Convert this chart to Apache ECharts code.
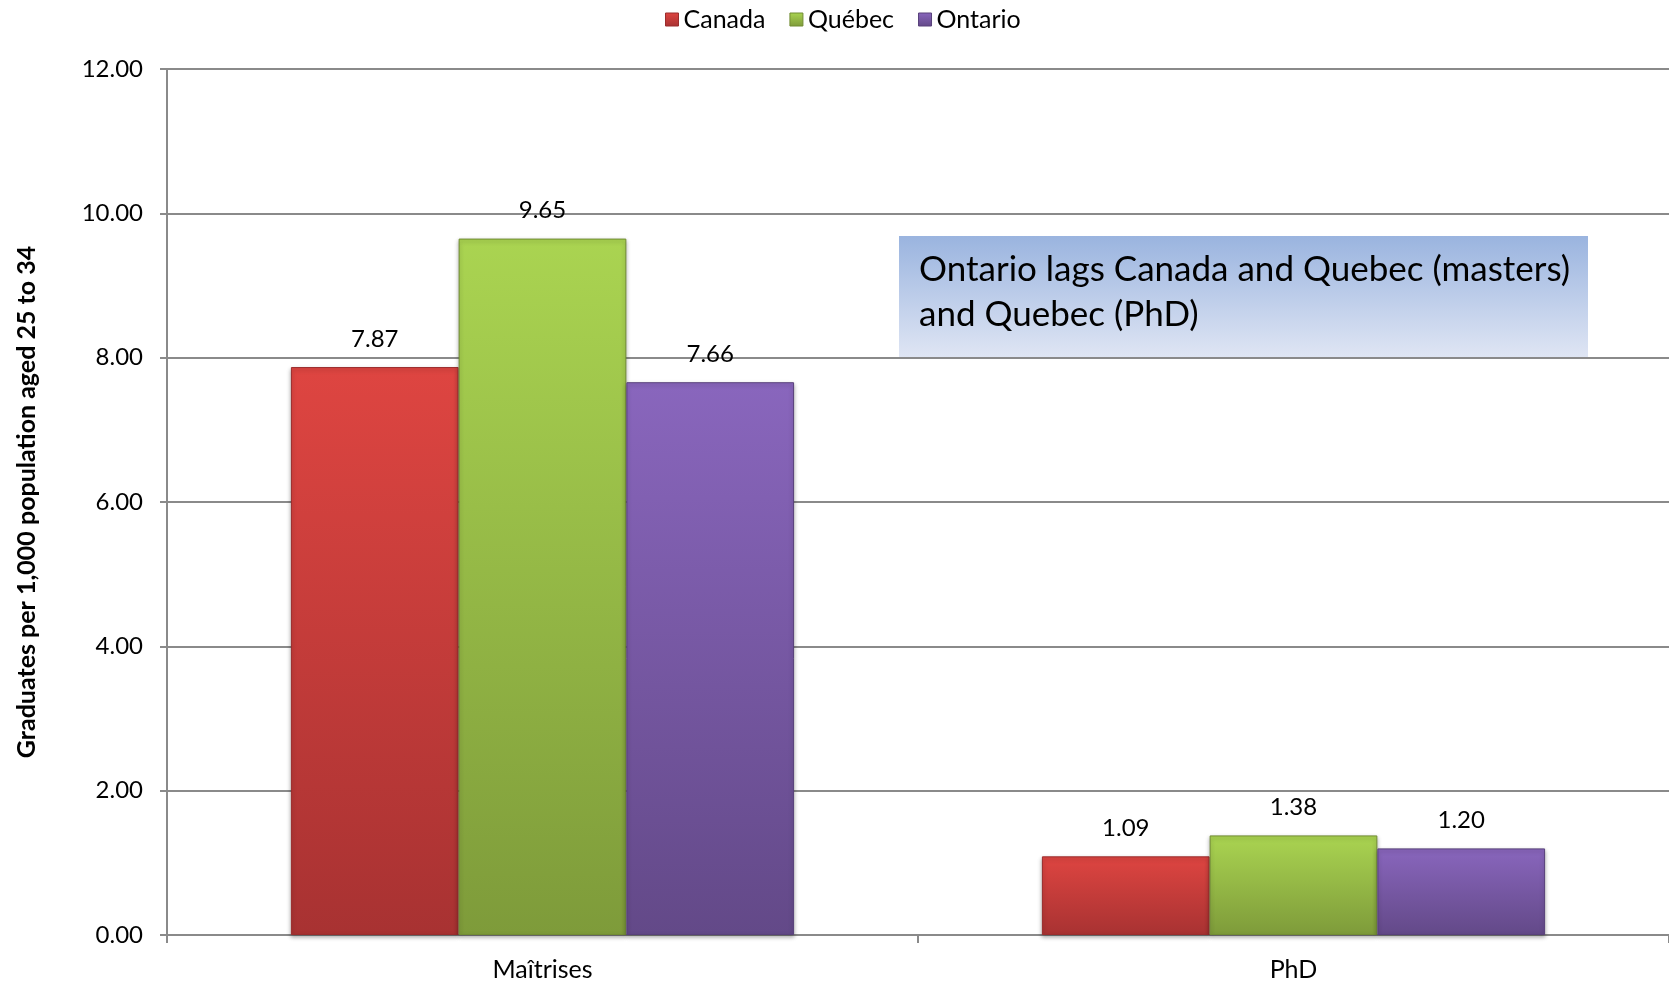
<!DOCTYPE html>
<html>
<head>
<meta charset="utf-8">
<script src="https://cdn.jsdelivr.net/npm/echarts@6/dist/echarts.min.js"></script>
<style>
  html, body { margin: 0; padding: 0; background: #ffffff; }
  #chart { width: 1669px; height: 982px; }
</style>
</head>
<body>
<div id="chart"></div>
<script>
// Graduates per 1,000 population aged 25 to 34
const categories = ['Maîtrises', 'PhD'];
const seriesNames = ['Canada', 'Québec', 'Ontario'];
const canada = [7.87, 1.09];
const quebec = [9.65, 1.38];
const ontario = [7.66, 1.20];
const yTicks = { min: 0, max: 12, interval: 2 };
const axisTitle = 'Graduates per 1,000 population aged 25 to 34';
const noteLines = ['Ontario lags Canada and Quebec (masters)', 'and Quebec (PhD)'];

const FONT = 'Lato, "Open Sans", sans-serif';
const GRAY = '#8a8a8a';

function grad(top, bottom) {
  return new echarts.graphic.LinearGradient(0, 0, 0, 1, [
    { offset: 0, color: top },
    { offset: 1, color: bottom }
  ]);
}

const palette = [
  { top: '#de4541', bottom: '#a83232', border: '#9a2d2d' },
  { top: '#aad451', bottom: '#7e9b3a', border: '#718c33' },
  { top: '#8966bd', bottom: '#634988', border: '#58417a' }
];
const values = [canada, quebec, ontario];

const chart = echarts.init(document.getElementById('chart'), null, { renderer: 'canvas' });

const series = seriesNames.map((name, i) => ({
  name: name,
  type: 'bar',
  data: values[i],
  barGap: '0%',
  barCategoryGap: '33%',
  itemStyle: {
    color: grad(palette[i].top, palette[i].bottom),
    borderColor: palette[i].border,
    borderWidth: 1,
    shadowColor: 'rgba(0,0,0,0.3)',
    shadowBlur: 4,
    shadowOffsetY: 2
  },
  label: {
    show: true,
    position: 'top',
    distance: 16,
    formatter: p => p.value.toFixed(2),
    fontFamily: FONT,
    fontSize: 24,
    color: '#000000'
  }
}));

chart.setOption({
  animation: false,
  backgroundColor: '#ffffff',
  legend: {
    data: seriesNames.map((n, i) => ({
      name: n,
      itemStyle: { color: grad(palette[i].top, palette[i].bottom), borderColor: palette[i].border, borderWidth: 1 }
    })),
    top: 2,
    left: 660,
    icon: 'rect',
    itemWidth: 13,
    itemHeight: 13,
    itemGap: 24,
    textStyle: { fontFamily: FONT, fontSize: 25, color: '#000000' }
  },
  grid: { left: 167, right: 0, top: 69, bottom: 47, containLabel: false },
  xAxis: {
    type: 'category',
    data: categories,
    axisLine: { lineStyle: { color: GRAY, width: 2 } },
    axisTick: { show: true, length: 8, interval: 0, lineStyle: { color: GRAY, width: 2 } },
    axisLabel: { fontFamily: FONT, fontSize: 25, color: '#000000', margin: 22 }
  },
  yAxis: {
    type: 'value',
    min: yTicks.min,
    max: yTicks.max,
    interval: yTicks.interval,
    name: axisTitle,
    nameLocation: 'middle',
    nameGap: 128,
    nameRotate: 90,
    nameTextStyle: { fontFamily: FONT, fontSize: 25, fontWeight: 'bold', color: '#000000' },
    axisLine: { show: true, lineStyle: { color: GRAY, width: 2 } },
    axisTick: { show: true, length: 7, lineStyle: { color: GRAY, width: 2 } },
    axisLabel: { fontFamily: FONT, fontSize: 24, color: '#000000', margin: 24, formatter: v => v.toFixed(2) },
    splitLine: { lineStyle: { color: GRAY, width: 2 } }
  },
  series: series,
  graphic: [
    {
      type: 'group',
      left: 899,
      top: 236,
      z: 100,
      children: [
        {
          type: 'rect',
          shape: { x: 0, y: 0, width: 689, height: 123 },
          style: {
            fill: new echarts.graphic.LinearGradient(0, 0, 0, 1, [
              { offset: 0, color: '#9ab4df' },
              { offset: 1, color: '#e0e6f4' }
            ])
          }
        },
        {
          type: 'text',
          x: 20,
          y: 11,
          style: {
            text: noteLines.join('\n'),
            fontFamily: FONT,
            fontSize: 35,
            lineHeight: 45,
            fill: '#000000'
          }
        }
      ]
    }
  ]
});
</script>
</body>
</html>
